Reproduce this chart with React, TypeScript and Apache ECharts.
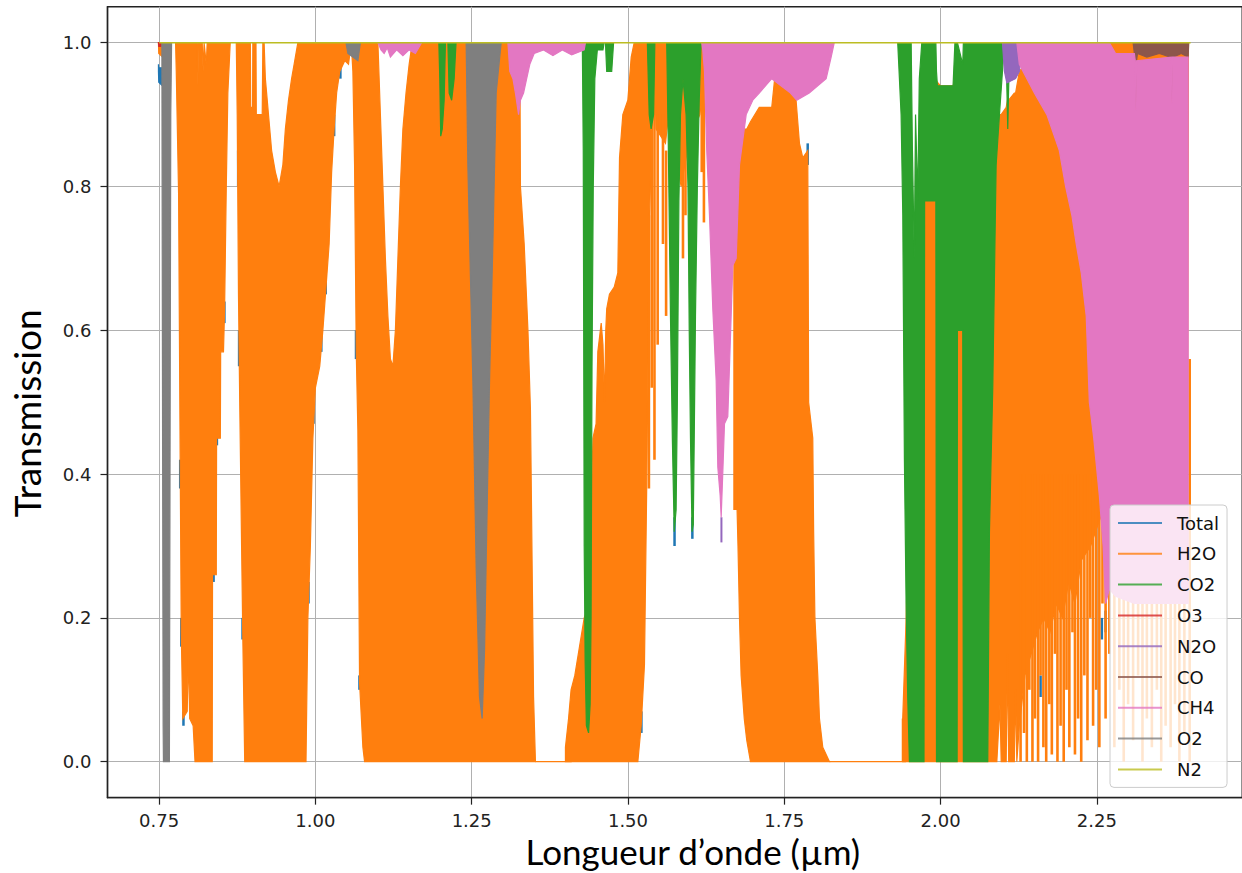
import React, { useEffect, useRef } from "react";
import * as echarts from "echarts";

// [wavelength (µm), upper transmission, lower transmission]
type Pt = [number, number, number];

const legendNames = ["Total", "H2O", "CO2", "O3", "N2O", "CO", "CH4", "O2", "N2"];
const gasColors: Record<string, string> = {
  Total: "#1f77b4",
  H2O: "#ff7f0e",
  CO2: "#2ca02c",
  O3: "#d62728",
  N2O: "#9467bd",
  CO: "#8c564b",
  CH4: "#e377c2",
  O2: "#7f7f7f",
  N2: "#bcbd22",
};
const xTicks = [0.75, 1.0, 1.25, 1.5, 1.75, 2.0, 2.25];
const yTicks = [0, 0.2, 0.4, 0.6, 0.8, 1.0];

const totalBands: Pt[][] = [
  [[0.749, 0.97, 0.96], [0.7495, 0.965, 0.945], [0.7555, 0.965, 0.94], [0.756, 0.97, 0.95]],
];
const totalSpecks: Pt[] = [
  [0.7838, 0.42, 0.38], [0.7856, 0.2, 0.16], [0.789, 0.07, 0.05], [0.8372, 0.28, 0.25], [0.8425, 0.47, 0.44],
  [0.8545, 0.64, 0.61], [0.8765, 0.85, 0.8], [0.878, 0.6, 0.55], [0.8835, 0.2, 0.17], [0.989, 0.25, 0.22],
  [0.997, 0.5, 0.47], [1.0095, 0.6, 0.57], [1.0165, 0.68, 0.65], [1.03, 0.9, 0.87], [1.04, 0.97, 0.95],
  [1.065, 0.6, 0.56], [1.0705, 0.12, 0.1], [1.2425, 0.85, 0.8], [1.251, 0.56, 0.52], [1.2565, 0.3, 0.26],
  [1.2715, 0.2, 0.16], [1.277, 0.47, 0.43], [1.2835, 0.75, 0.7], [1.5215, 0.07, 0.04], [1.5745, 0.34, 0.3],
  [1.603, 0.34, 0.31], [1.7875, 0.86, 0.83], [2.14, 0.22, 0.19], [2.16, 0.12, 0.09], [2.2, 0.35, 0.32],
  [2.258, 0.2, 0.17], [2.264, 0.21, 0.18],
];

const h2oBands: Pt[][] = [
  [[0.749, 1, 1], [0.7495, 1, 0.985], [0.756, 1, 0.98], [0.7565, 1, 1]],
  [
    [0.7764, 1, 1], [0.7775, 1, 0.96], [0.7812, 1, 0.79], [0.7839, 1, 0.4], [0.7855, 1, 0.18], [0.788, 1, 0.06],
    [0.795, 1, 0.07], [0.797, 1, 0.15], [0.799, 1, 0.06], [0.8045, 1, 0.05], [0.8075, 1, 0], [0.811, 1, 0],
    [0.812, 0.94, 0], [0.813, 1, 0], [0.819, 1, 0], [0.8205, 0.96, 0], [0.822, 1, 0], [0.8255, 0.97, 0],
    [0.827, 1, 0], [0.835, 1, 0], [0.8355, 1, 0.26], [0.8415, 1, 0.26], [0.842, 1, 0.45], [0.848, 1, 0.45],
    [0.8485, 1, 0.57], [0.853, 1, 0.57], [0.8548, 1, 0.63], [0.8575, 1, 0.8], [0.86, 1, 0.93], [0.8638, 1, 1],
  ],
  [
    [0.8735, 1, 1], [0.875, 1, 0.9], [0.877, 1, 0.65], [0.879, 1, 0.5], [0.882, 1, 0.3], [0.884, 1, 0.17],
    [0.887, 1, 0], [0.896, 1, 0], [0.8965, 0.91, 0], [0.8995, 0.91, 0], [0.9, 1, 0], [0.905, 1, 0],
    [0.9055, 0.9, 0], [0.915, 0.9, 0], [0.916, 1, 0], [0.918, 1, 0], [0.92, 0.95, 0], [0.925, 0.9, 0],
    [0.93, 0.85, 0], [0.936, 0.82, 0], [0.942, 0.8, 0], [0.948, 0.83, 0], [0.952, 0.88, 0], [0.957, 0.92, 0],
    [0.962, 0.95, 0], [0.966, 0.97, 0], [0.972, 1, 0], [0.985, 1, 0],
    [0.988, 1, 0.2], [0.992, 1, 0.3], [0.996, 1, 0.45], [1.0, 1, 0.52], [1.007, 1, 0.55], [1.012, 1, 0.6],
    [1.017, 1, 0.66], [1.022, 1, 0.72], [1.026, 1, 0.82], [1.03, 1, 0.88], [1.034, 1, 0.93], [1.039, 1, 0.96],
    [1.047, 1, 0.975], [1.053, 1, 0.97], [1.0574, 1, 1],
  ],
  [
    [1.0574, 1, 1], [1.06, 1, 0.96], [1.0627, 1, 0.83], [1.0654, 1, 0.57], [1.068, 1, 0.46], [1.0707, 1, 0.11],
    [1.076, 1, 0.02], [1.0787, 1, 0], [1.1, 1, 0], [1.104, 0.9, 0], [1.108, 0.8, 0], [1.112, 0.7, 0],
    [1.116, 0.62, 0], [1.12, 0.56, 0], [1.124, 0.55, 0], [1.128, 0.6, 0], [1.132, 0.7, 0], [1.136, 0.8, 0],
    [1.14, 0.88, 0], [1.145, 0.93, 0], [1.15, 0.97, 0], [1.155, 1, 0], [1.327, 1, 0], [1.328, 0.8, 0],
    [1.334, 0.72, 0], [1.34, 0.6, 0], [1.344, 0.49, 0], [1.349, 0.09, 0], [1.352, 0, 0],
  ],
  [[1.352, 0, 0], [1.41, 0, 0]],
  [
    [1.4, 0.02, 0], [1.405, 0.06, 0], [1.409, 0.1, 0], [1.415, 0.12, 0], [1.4225, 0.16, 0], [1.43, 0.2, 0],
    [1.4385, 0.22, 0], [1.441, 0.35, 0], [1.444, 0.45, 0], [1.449, 0.47, 0], [1.4518, 0.57, 0], [1.4572, 0.61, 0],
    [1.46, 0.58, 0], [1.4625, 0.5, 0], [1.4645, 0.6, 0], [1.466, 0.63, 0], [1.4704, 0.65, 0], [1.478, 0.66, 0],
    [1.4838, 0.68, 0], [1.4865, 0.84, 0], [1.4918, 0.9, 0], [1.4998, 0.92, 0], [1.5052, 0.98, 0], [1.51, 1, 0],
    [1.5158, 1, 0], [1.5211, 1, 0.05], [1.5264, 1, 0.135], [1.5301, 1, 0.39], [1.532, 1, 0.55], [1.5344, 1, 0.76],
    [1.5397, 1, 0.9], [1.5424, 1, 0.96], [1.545, 1, 0.88], [1.56, 1, 0.86], [1.565, 1, 0.9], [1.575, 1, 0.85],
    [1.585, 1, 0.8], [1.595, 1, 0.85], [1.605, 1, 0.88], [1.615, 1, 0.9], [1.625, 1, 0.97], [1.63, 1, 1],
  ],
  [
    [1.6731, 0.72, 0.4], [1.676, 0.82, 0.3], [1.6784, 0.84, 0.2], [1.681, 0.87, 0.12], [1.686, 0.88, 0.06],
    [1.69, 0.88, 0.03], [1.696, 0.89, 0], [1.71, 0.91, 0], [1.73, 0.91, 0], [1.737, 0.97, 0], [1.758, 0.97, 0],
    [1.761, 0.95, 0], [1.7689, 0.92, 0], [1.7743, 0.86, 0], [1.7796, 0.84, 0], [1.7876, 0.85, 0], [1.789, 0.5, 0],
    [1.7956, 0.45, 0], [1.797, 0.32, 0], [1.799, 0.2, 0], [1.8036, 0.12, 0], [1.8063, 0.06, 0], [1.8116, 0.02, 0],
    [1.8223, 0, 0],
  ],
  [[1.8223, 0, 0], [1.945, 0, 0]],
  [
    [1.9395, 0.06, 0], [1.945, 0.2, 0], [1.95, 0.4, 0], [1.96, 0.7, 0], [1.97, 0.85, 0], [1.975, 0.92, 0],
    [1.99, 0.95, 0], [2.0, 0.94, 0], [2.02, 0.94, 0], [2.03, 0.97, 0], [2.06, 0.97, 0], [2.078, 0.92, 0],
    [2.09, 0.9, 0], [2.095, 0.9, 0.08], [2.097, 0.9, 0], [2.105, 0.91, 0], [2.107, 0.92, 0.15], [2.109, 0.92, 0],
    [2.118, 0.93, 0], [2.12, 0.93, 0.1], [2.122, 0.94, 0], [2.126, 0.96, 0.05], [2.135, 0.97, 0.12],
    [2.145, 0.98, 0.15], [2.155, 1, 0.18], [2.165, 1, 0.2], [2.175, 1, 0.18], [2.185, 1, 0.22], [2.195, 1, 0.2],
    [2.205, 1, 0.25], [2.215, 1, 0.22], [2.225, 1, 0.28], [2.24, 1, 0.3], [2.26, 1, 0.35], [2.3, 1, 0.4],
    [2.395, 1, 0.4], [2.3965, 1, 1],
  ],
];
const h2oStrands: Pt[] = [
  [1.5335, 0.76, 0.38], [1.538, 0.9, 0.52], [1.5424, 0.96, 0.42], [1.5475, 0.9, 0.58], [1.556, 0.9, 0.72],
  [1.561, 0.85, 0.62], [1.588, 0.9, 0.7], [1.592, 0.9, 0.76], [1.618, 0.95, 0.82], [1.6215, 0.95, 0.75],
  [1.6705, 0.85, 0.35], [1.673, 0.85, 0.35], [1.94, 0.06, 0],
  [2.128, 0.4, 0.0], [2.1335, 0.4, 0.04], [2.138, 0.4, 0.0], [2.142, 0.4, 0.1], [2.147, 0.4, 0.0],
  [2.151, 0.4, 0.06], [2.156, 0.4, 0.0], [2.16, 0.4, 0.12], [2.1645, 0.4, 0.02], [2.169, 0.4, 0.0],
  [2.174, 0.4, 0.08], [2.178, 0.4, 0.01], [2.183, 0.4, 0.15], [2.187, 0.4, 0.0], [2.192, 0.4, 0.05],
  [2.197, 0.4, 0.0], [2.2015, 0.4, 0.1], [2.206, 0.4, 0.02], [2.211, 0.4, 0.18], [2.215, 0.4, 0.01],
  [2.22, 0.4, 0.06], [2.225, 0.4, 0.0], [2.23, 0.4, 0.12], [2.235, 0.4, 0.03], [2.2395, 0.4, 0.2],
  [2.244, 0.4, 0.05], [2.249, 0.4, 0.1], [2.254, 0.4, 0.02], [2.259, 0.4, 0.22], [2.264, 0.4, 0.06],
  [2.27, 0.45, 0.15], [2.278, 0.45, 0.02], [2.286, 0.45, 0.1], [2.293, 0.45, 0.0], [2.3, 0.45, 0.08],
  [2.308, 0.45, 0.03], [2.316, 0.45, 0.12], [2.323, 0.45, 0.0], [2.33, 0.45, 0.06], [2.338, 0.45, 0.02],
  [2.346, 0.45, 0.1], [2.353, 0.45, 0.0], [2.36, 0.45, 0.05], [2.368, 0.45, 0.02], [2.375, 0.45, 0.08],
  [2.382, 0.45, 0.0], [2.39, 0.45, 0.04], [2.3985, 0.56, 0.0],
];

const co2Bands: Pt[][] = [
  [[1.1975, 1, 1], [1.199, 1, 0.95], [1.2005, 1, 0.87], [1.203, 1, 0.88], [1.206, 1, 0.92], [1.208, 1, 1]],
  [[1.212, 1, 1], [1.214, 1, 0.93], [1.218, 1, 0.92], [1.222, 1, 0.95], [1.225, 1, 1]],
  [
    [1.427, 1, 1], [1.4285, 1, 0.85], [1.43, 1, 0.3], [1.4315, 1, 0.14], [1.4335, 1, 0.05], [1.437, 1, 0.04],
    [1.4395, 1, 0.08], [1.441, 1, 0.2], [1.4425, 1, 0.55], [1.4445, 1, 0.8], [1.447, 1, 0.95], [1.451, 1, 0.99],
    [1.46, 1, 0.99], [1.462, 1, 1],
  ],
  [[1.464, 1, 1], [1.466, 1, 0.96], [1.474, 1, 0.96], [1.477, 1, 1]],
  [[1.531, 1, 1], [1.534, 1, 0.9], [1.537, 1, 0.88], [1.541, 1, 0.9], [1.543, 1, 1]],
  [
    [1.562, 1, 1], [1.5645, 1, 0.86], [1.568, 1, 0.62], [1.571, 1, 0.45], [1.574, 1, 0.32], [1.577, 1, 0.35],
    [1.579, 1, 0.5], [1.5815, 1, 0.78], [1.584, 1, 0.9], [1.588, 1, 0.95], [1.593, 1, 0.9], [1.596, 1, 0.8],
    [1.598, 1, 0.6], [1.6, 1, 0.45], [1.6025, 1, 0.32], [1.6045, 1, 0.33], [1.606, 1, 0.45], [1.608, 1, 0.62],
    [1.611, 1, 0.8], [1.614, 1, 0.92], [1.617, 1, 1],
  ],
  [
    [1.9315, 1, 1], [1.9369, 1, 0.9], [1.9396, 1, 0.76], [1.9422, 1, 0.42], [1.9449, 1, 0.22], [1.9475, 1, 0.09],
    [1.9502, 1, 0], [1.953, 1, 0], [1.955, 0.85, 0], [1.958, 0.7, 0], [1.96, 0.9, 0], [1.9635, 0.78, 0],
    [1.966, 0.95, 0], [1.97, 1, 0], [1.9735, 1, 0], [1.9745, 1, 0.78], [1.9925, 1, 0.78], [1.9935, 0.96, 0],
    [1.995, 0.94, 0], [2.02, 0.94, 0], [2.023, 1, 0], [2.0265, 1, 0], [2.027, 1, 0.6], [2.0355, 0.97, 0.6],
    [2.0365, 1, 0], [2.0755, 1, 0], [2.0782, 1, 0.32], [2.0835, 1, 0.52], [2.0889, 1, 0.83], [2.0942, 1, 0.9],
    [2.1022, 1, 1],
  ],
  [[2.1045, 1, 1], [2.1075, 1, 0.88], [2.1105, 1, 1]],
];

const o3Bands: Pt[][] = [[[0.749, 1, 1], [0.7495, 1, 0.995], [0.753, 1, 0.995], [0.7535, 1, 1]]];

const n2oBands: Pt[][] = [
  [[2.099, 1, 1], [2.1022, 1, 0.96], [2.106, 1, 0.944], [2.12, 1, 0.95], [2.126, 1, 0.96], [2.1315, 1, 1]],
];
const n2oStrands: Pt[] = [[1.6495, 0.34, 0.305]];

const coBands: Pt[][] = [
  [
    [2.308, 1, 1], [2.31, 1, 0.985], [2.3115, 1, 0.975], [2.3125, 1, 0.91], [2.3135, 1, 0.975], [2.315, 1, 0.985],
    [2.33, 1, 0.98], [2.35, 1, 0.985], [2.368, 1, 0.98], [2.37, 1, 0.92], [2.372, 1, 0.98], [2.385, 1, 0.985],
    [2.396, 1, 0.98], [2.397, 1, 1],
  ],
];

const ch4Bands: Pt[][] = [
  [
    [1.1, 1, 1], [1.105, 1, 0.99], [1.11, 1, 0.985], [1.115, 1, 0.993], [1.12, 1, 0.98], [1.13, 1, 0.99],
    [1.14, 1, 0.982], [1.15, 1, 0.99], [1.16, 1, 0.985], [1.17, 1, 1],
  ],
  [
    [1.308, 1, 1], [1.311, 1, 0.96], [1.316, 1, 0.95], [1.32, 1, 0.93], [1.325, 1, 0.9], [1.328, 1, 0.92],
    [1.333, 1, 0.93], [1.338, 1, 0.95], [1.343, 1, 0.97], [1.35, 1, 0.985], [1.365, 1, 0.99], [1.38, 1, 0.982],
    [1.395, 1, 0.99], [1.41, 1, 0.983], [1.43, 1, 0.99], [1.432, 1, 1],
  ],
  [
    [1.618, 1, 1], [1.6197, 1, 0.99], [1.6224, 1, 0.96], [1.626, 1, 0.85], [1.6304, 1, 0.76], [1.6357, 1, 0.63],
    [1.6411, 1, 0.53], [1.6437, 1, 0.41], [1.6475, 1, 0.37], [1.6491, 1, 0.34], [1.652, 1, 0.41],
    [1.6544, 1, 0.47], [1.6597, 1, 0.48], [1.6624, 1, 0.55], [1.6677, 1, 0.69], [1.6731, 1, 0.7],
    [1.6784, 1, 0.83], [1.6891, 1, 0.9], [1.6996, 1, 0.92], [1.71, 1, 0.93], [1.73, 1, 0.95], [1.76, 1, 0.93],
    [1.77, 1, 0.92], [1.79, 1, 0.93], [1.817, 1, 0.95], [1.825, 1, 0.98], [1.83, 1, 1],
  ],
  [
    [2.122, 1, 1], [2.126, 1, 0.97], [2.15, 1, 0.93], [2.17, 1, 0.9], [2.19, 1, 0.85], [2.2, 1, 0.8],
    [2.21, 1, 0.76], [2.217, 1, 0.72], [2.225, 1, 0.68], [2.233, 1, 0.62], [2.238, 1, 0.5], [2.245, 1, 0.45],
    [2.254, 1, 0.37], [2.26, 1, 0.3], [2.264, 1, 0.22], [2.27, 1, 0.24], [2.28, 0.985, 0.23], [2.31, 0.985, 0.22],
    [2.3115, 0.975, 0.22], [2.3125, 0.905, 0.22], [2.3135, 0.975, 0.22], [2.369, 0.98, 0.22], [2.37, 0.915, 0.22],
    [2.371, 0.98, 0.22], [2.396, 0.98, 0.22],
  ],
];

const o2Bands: Pt[][] = [
  [[0.7545, 1, 1], [0.7553, 1, 0.6], [0.7565, 1, 0.05], [0.757, 1, 0], [0.7665, 1, 0], [0.7675, 1, 0.4], [0.7687, 1, 0.9], [0.77, 1, 1]],
  [[1.049, 1, 1], [1.052, 1, 0.985], [1.068, 1, 0.975], [1.072, 1, 1]],
  [
    [1.2412, 1, 1], [1.2439, 1, 0.83], [1.2519, 1, 0.53], [1.2572, 1, 0.27], [1.2625, 1, 0.09], [1.2668, 1, 0.06],
    [1.2706, 1, 0.155], [1.2732, 1, 0.28], [1.2786, 1, 0.53], [1.2839, 1, 0.72], [1.2892, 1, 0.93], [1.2972, 1, 1],
  ],
];

const n2Line: [number, number][] = [[0.75, 1], [2.4, 1]];

function bandSeries(name: string, bands: Pt[][]) {
  const color = gasColors[name];
  return {
    type: "custom",
    name,
    coordinateSystem: "cartesian2d",
    silent: true,
    itemStyle: { color },
    encode: { x: 0, y: 1 },
    data: bands.map((b, i) => [b[0][0], b[0][2], i]),
    renderItem: (params: any, api: any) => {
      const band = bands[api.value(2)];
      const top = band.map((p) => api.coord([p[0], p[1]]));
      const bottom = band.slice().reverse().map((p) => api.coord([p[0], p[2]]));
      return {
        type: "polygon",
        shape: { points: top.concat(bottom) },
        style: { fill: color, stroke: color, lineWidth: 1.2 },
      };
    },
  };
}

function strandSeries(name: string, strands: Pt[], width: number) {
  const color = gasColors[name];
  return {
    type: "custom",
    name,
    coordinateSystem: "cartesian2d",
    silent: true,
    itemStyle: { color },
    encode: { x: 0, y: [1, 2] },
    data: strands,
    renderItem: (params: any, api: any) => {
      const a = api.coord([api.value(0), api.value(1)]);
      const b = api.coord([api.value(0), api.value(2)]);
      return {
        type: "line",
        shape: { x1: a[0], y1: a[1], x2: b[0], y2: b[1] },
        style: { stroke: color, lineWidth: width },
      };
    },
  };
}

function buildOption() {
  const tickFont = { fontFamily: "DejaVu Sans", fontSize: 18, color: "#222" };
  return {
    animation: false,
    backgroundColor: "#ffffff",
    grid: {
      left: 107.5,
      top: 6.75,
      width: 1134.7,
      height: 790.9,
      show: true,
      borderColor: "#222",
      borderWidth: 1.4,
      backgroundColor: "transparent",
      containLabel: false,
      outerBoundsMode: "none",
    },
    xAxis: {
      type: "value",
      min: 0.6675,
      max: 2.4825,
      axisLine: { show: true, onZero: false, lineStyle: { color: "#222", width: 1.4 } },
      axisTick: { show: true, length: 7, lineStyle: { color: "#222", width: 1.2 }, customValues: xTicks },
      axisLabel: { ...tickFont, margin: 14, customValues: xTicks, formatter: (v: number) => v.toFixed(2) },
      splitLine: { show: true, lineStyle: { color: "#b0b0b0", width: 1 } },
      name: "Longueur d’onde (µm)",
      nameLocation: "middle",
      nameMoveOverlap: false,
      nameGap: 36,
      nameTextStyle: { fontFamily: "Lato", fontSize: 35, lineHeight: 34, color: "#000", padding: [0, 0, 0, 36] },
    },
    yAxis: {
      type: "value",
      min: -0.05,
      max: 1.05,
      axisLine: { show: true, onZero: false, lineStyle: { color: "#222", width: 1.4 } },
      axisTick: { show: true, length: 7, lineStyle: { color: "#222", width: 1.2 }, customValues: yTicks },
      axisLabel: { ...tickFont, margin: 16, customValues: yTicks, formatter: (v: number) => v.toFixed(1) },
      splitLine: { show: true, lineStyle: { color: "#b0b0b0", width: 1 } },
      name: "Transmission",
      nameLocation: "middle",
      nameMoveOverlap: false,
      nameRotate: 90,
      nameGap: 63,
      nameTextStyle: { fontFamily: "Lato", fontSize: 37, color: "#000", padding: [0, 22, 0, 0] },
    },
    legend: {
      orient: "vertical",
      left: 1110,
      top: 505,
      padding: [6, 8, 6, 8],
      itemWidth: 44,
      itemHeight: 2,
      itemGap: 6.8,
      backgroundColor: "rgba(255,255,255,0.8)",
      borderColor: "#cccccc",
      borderWidth: 1,
      borderRadius: 4,
      selectedMode: false,
      textStyle: { fontFamily: "DejaVu Sans", fontSize: 18, color: "#111", lineHeight: 24, padding: [0, 0, 0, 10] },
      data: legendNames.map((n) => ({ name: n, icon: "rect", itemStyle: { color: gasColors[n], opacity: 0.8 } })),
    },
    series: [
      bandSeries("Total", totalBands),
      strandSeries("Total", totalSpecks, 2.5),
      bandSeries("H2O", h2oBands),
      strandSeries("H2O", h2oStrands, 2.6),
      bandSeries("CO2", co2Bands),
      bandSeries("O3", o3Bands),
      bandSeries("N2O", n2oBands),
      strandSeries("N2O", n2oStrands, 2),
      bandSeries("CO", coBands),
      bandSeries("CH4", ch4Bands),
      bandSeries("O2", o2Bands),
      {
        type: "line",
        name: "N2",
        data: n2Line,
        symbol: "none",
        silent: true,
        itemStyle: { color: gasColors.N2 },
        lineStyle: { color: gasColors.N2, width: 1.5 },
      },
    ],
  };
}

export default function App() {
  const ref = useRef<HTMLDivElement>(null);
  useEffect(() => {
    const chart = echarts.init(ref.current as HTMLDivElement, null, { renderer: "svg" });
    chart.setOption(buildOption() as any);
    return () => chart.dispose();
  }, []);
  return (
    <div
      ref={ref}
      style={{ position: "fixed", left: 0, top: 0, width: 1242, height: 873, background: "#fff" }}
    />
  );
}
